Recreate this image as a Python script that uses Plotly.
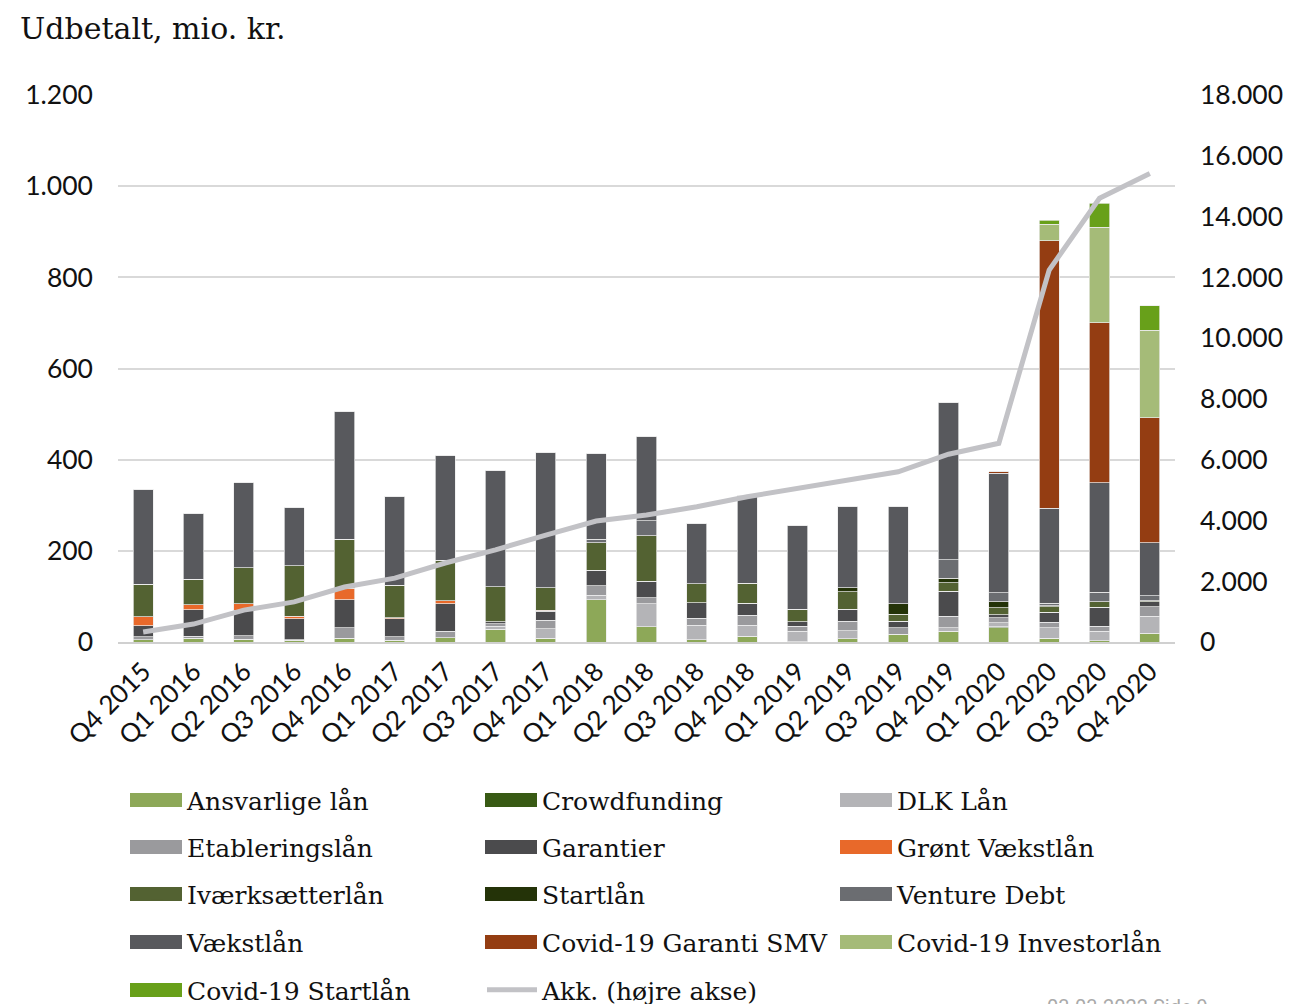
import plotly.graph_objects as go

quarters = ["Q4 2015", "Q1 2016", "Q2 2016", "Q3 2016", "Q4 2016", "Q1 2017", "Q2 2017",
            "Q3 2017", "Q4 2017", "Q1 2018", "Q2 2018", "Q3 2018", "Q4 2018", "Q1 2019",
            "Q2 2019", "Q3 2019", "Q4 2019", "Q1 2020", "Q2 2020", "Q3 2020", "Q4 2020"]

ansvarlige   = [5, 8, 6, 3, 8, 4, 9, 28, 8, 93, 34, 5, 13, 1, 7, 17, 24, 31, 8, 3, 18]
crowdfunding = [0, 0, 0, 0, 0, 0, 0, 0, 0, 0, 0, 0, 0, 0, 0, 0, 0, 2, 0, 0, 1]
dlk          = [0, 0, 0, 1, 0, 0, 0, 7, 21, 10, 50, 32, 24, 23, 18, 0, 7, 9, 23, 21, 37]
etablering   = [7, 5, 8, 1, 23, 7, 15, 5, 19, 20, 13, 15, 22, 11, 21, 14, 26, 11, 12, 11, 21]
garantier    = [24, 58, 56, 46, 62, 40, 60, 4, 20, 34, 36, 34, 26, 9, 26, 15, 54, 7, 22, 41, 11]
groent       = [19, 11, 14, 6, 25, 2, 7, 0, 2, 0, 0, 0, 0, 0, 0, 0, 0, 0, 0, 0, 0]
ivaerk       = [72, 56, 79, 110, 107, 72, 88, 77, 49, 61, 100, 42, 44, 28, 38, 15, 19, 15, 12, 12, 3]
startlaan    = [0, 0, 0, 0, 0, 0, 0, 0, 0, 0, 0, 0, 0, 0, 9, 23, 10, 13, 2, 0, 0]
venture      = [0, 0, 0, 0, 0, 0, 0, 0, 0, 7, 33, 0, 0, 0, 0, 0, 40, 20, 6, 21, 10]
vaekst       = [208, 143, 186, 127, 280, 195, 230, 255, 297, 188, 184, 132, 193, 183, 179, 213, 345, 262, 208, 240, 117]
covid_gar    = [0, 0, 0, 0, 0, 0, 0, 0, 0, 0, 0, 0, 0, 0, 0, 0, 0, 4, 587, 351, 274]
covid_inv    = [0, 0, 0, 0, 0, 0, 0, 0, 0, 0, 0, 0, 0, 0, 0, 0, 0, 0, 37, 210, 192]
covid_start  = [0, 0, 0, 0, 0, 0, 0, 0, 0, 0, 0, 0, 0, 0, 0, 0, 0, 0, 8, 53, 54]

akkumuleret = [330, 590, 1050, 1320, 1810, 2100, 2600, 3030, 3520, 3980, 4180, 4450,
               4780, 5060, 5330, 5600, 6180, 6540, 12240, 14600, 15420]

left_ticks = [0, 200, 400, 600, 800, 1000, 1200]
right_ticks = [0, 2000, 4000, 6000, 8000, 10000, 12000, 14000, 16000, 18000]

series = [
    ("Ansvarlige lån", ansvarlige, "#8DA858"),
    ("Crowdfunding", crowdfunding, "#385A14"),
    ("DLK Lån", dlk, "#B4B4B7"),
    ("Etableringslån", etablering, "#9A9A9D"),
    ("Garantier", garantier, "#4B4B4D"),
    ("Grønt Vækstlån", groent, "#E8692A"),
    ("Iværksætterlån", ivaerk, "#536232"),
    ("Startlån", startlaan, "#243308"),
    ("Venture Debt", venture, "#6B6D71"),
    ("Vækstlån", vaekst, "#58595D"),
    ("Covid-19 Garanti SMV", covid_gar, "#943D12"),
    ("Covid-19 Investorlån", covid_inv, "#A5BB78"),
    ("Covid-19 Startlån", covid_start, "#68A01A"),
]

W, H = 1289, 1004
L, R, T, B = 118, 114, 95, 362
pw = W - L - R
ph = H - T - B

col_x_px = [127, 482, 837]
row_y_px = [800, 847, 894, 942, 990]
legend_font = dict(family="DejaVu Serif", size=25, color="#111111")


def legend_id(k):
    return "legend" if k == 0 else f"legend{k + 1}"


def px_x(v):
    return (v - L) / pw


def px_y(v):
    return (H - B - v) / ph


legends = {}
key_shapes = []
n_items = len(series) + 1
for k in range(n_items):
    r, c = divmod(k, 3)
    legends[legend_id(k)] = dict(
        orientation="h", xanchor="left", yanchor="middle", itemwidth=50,
        x=px_x(col_x_px[c]), y=px_y(row_y_px[r]),
        font=legend_font, bgcolor="rgba(0,0,0,0)")
    if k < len(series):
        key_shapes.append(dict(
            type="rect", xref="paper", yref="paper", layer="above",
            x0=px_x(col_x_px[c] + 3), x1=px_x(col_x_px[c] + 55),
            y0=px_y(row_y_px[r] + 7), y1=px_y(row_y_px[r] - 7),
            fillcolor=series[k][2], line=dict(width=0)))

fig = go.Figure()
for i, (name, vals, col) in enumerate(series):
    fig.add_trace(go.Bar(
        x=quarters, y=vals, name=name, showlegend=False, legendgroup=name,
        marker=dict(color=col, line=dict(color="rgba(235,235,235,0.9)", width=0.8)),
    ))

# legend keys (no data of their own; they mirror the series above)
for i, (name, vals, col) in enumerate(series):
    fig.add_trace(go.Bar(
        x=[quarters[0]], y=[None], name=name, legendgroup=name, showlegend=True,
        marker=dict(color=col, line=dict(color=col, width=0)),
        legend=legend_id(i), hoverinfo="skip",
    ))

fig.add_trace(go.Scatter(
    x=quarters, y=akkumuleret, name="Akk. (højre akse)", mode="lines",
    line=dict(color="#C2C2C6", width=5), yaxis="y2", legend=legend_id(len(series)),
))

tick_font = dict(family="Lato", size=26.5, color="#111111")

fig.update_layout(
    width=W, height=H,
    margin=dict(l=L, r=R, t=T, b=B, autoexpand=False),
    barmode="stack", bargap=0.6,
    plot_bgcolor="white", paper_bgcolor="white",
    separators=",.",
    showlegend=True,
    xaxis=dict(type="category", tickangle=-45, tickfont=dict(family="Lato", size=26, color="#111111"),
               showgrid=False, showline=True, linecolor="#D0D0D0", linewidth=2,
               ticks="", ticklabelstandoff=2),
    yaxis=dict(range=[0, 1200], tickvals=left_ticks, tickformat=",", tickfont=tick_font,
               showgrid=True, gridcolor="#D9D9D9", gridwidth=1.5, zeroline=False,
               ticks="", ticklabelstandoff=24),
    yaxis2=dict(range=[0, 18000], tickvals=right_ticks, tickformat=",", tickfont=tick_font,
                overlaying="y", side="right", showgrid=False, zeroline=False,
                ticks="", ticklabelstandoff=24),
    shapes=key_shapes,
    annotations=[
        dict(text="Udbetalt, mio. kr.", xref="paper", yref="paper",
             x=px_x(18), y=px_y(28), xanchor="left", yanchor="middle",
             showarrow=False, font=dict(family="DejaVu Serif", size=30, color="#111111")),
        dict(text="03-03-2022 Side 9", xref="paper", yref="paper",
             x=px_x(1210), y=px_y(993), xanchor="right", yanchor="top",
             showarrow=False, font=dict(family="Roboto", size=20, color="#AAAAAA")),
    ],
    **legends,
)

fig.write_html("out.html", config={"displayModeBar": False},
               post_script="document.body.style.margin='0';")
